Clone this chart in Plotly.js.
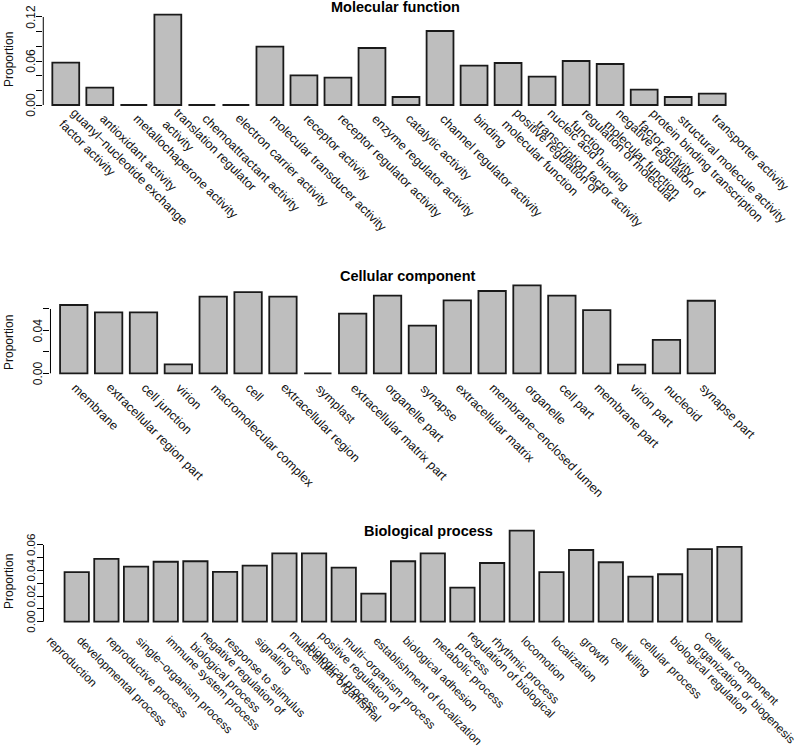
<!DOCTYPE html>
<html><head><meta charset="utf-8">
<script src="https://cdn.plot.ly/plotly-3.0.1.min.js"></script>
<style>html,body{margin:0;padding:0;background:#fff}</style>
</head><body><div id="chart" style="width:800px;height:750px"></div>
<script>
// Molecular function
const mfLabels = [
  "guanyl\u2212nucleotide exchange<br>factor activity",
  "antioxidant activity",
  "metallochaperone activity",
  "translation regulator<br>activity",
  "chemoattractant activity",
  "electron carrier activity",
  "molecular transducer activity",
  "receptor activity",
  "receptor regulator activity",
  "enzyme regulator activity",
  "catalytic activity",
  "channel regulator activity",
  "binding",
  "positive regulation of<br>molecular function",
  "nucleic acid binding<br>transcription factor activity",
  "regulation of molecular<br>function",
  "negative regulation of<br>molecular function",
  "protein binding transcription<br>factor activity",
  "structural molecule activity",
  "transporter activity"
];
const mfValues = [0.0577, 0.0236, 0, 0.1232, 0, 0, 0.0795, 0.0405, 0.0373, 0.0777,
  0.0109, 0.1009, 0.0536, 0.0573, 0.0386, 0.0600, 0.0559, 0.0209, 0.0109, 0.0155];
const mfTickVals = [0, 0.02, 0.04, 0.06, 0.08, 0.10, 0.12];
const mfTickText = ["0.00", "", "", "0.06", "", "", "0.12"];

// Cellular component
const ccLabels = [
  "membrane", "extracellular region part", "cell junction", "virion",
  "macromolecular complex", "cell", "extracellular region", "symplast",
  "extracellular matrix part", "organelle part", "synapse", "extracellular matrix",
  "membrane\u2212enclosed lumen", "organelle", "cell part", "membrane part",
  "virion part", "nucleoid", "synapse part"
];
const ccValues = [0.0637, 0.0569, 0.0569, 0.0084, 0.0715, 0.0758, 0.0715, 0,
  0.0556, 0.0724, 0.0444, 0.0681, 0.0768, 0.0821, 0.0724, 0.0590, 0.0080, 0.0311, 0.0677];
const ccTickVals = [0, 0.02, 0.04, 0.06];
const ccTickText = ["0.00", "", "0.04", ""];

// Biological process
const bpLabels = [
  "reproduction", "developmental process", "reproductive process",
  "single\u2212organism process", "immune system process",
  "negative regulation of<br>biological process", "response to stimulus", "signaling",
  "multicellular organismal<br>process", "positive regulation of<br>biological process",
  "multi\u2212organism process", "establishment of localization", "biological adhesion",
  "metabolic process", "regulation of biological<br>process", "rhythmic process",
  "locomotion", "localization", "growth", "cell killing", "cellular process",
  "biological regulation", "cellular component<br>organization or biogenesis"
];
const bpValues = [0.0387, 0.0491, 0.0430, 0.0469, 0.0473, 0.0389, 0.0438, 0.0535,
  0.0535, 0.0423, 0.0219, 0.0473, 0.0535, 0.0266, 0.0459, 0.0712, 0.0387, 0.0561,
  0.0465, 0.0352, 0.0371, 0.0567, 0.0585];
const bpTickVals = [0, 0.01, 0.02, 0.03, 0.04, 0.05, 0.06];
const bpTickText = ["0.00", "", "0.02", "", "0.04", "", "0.06"];

const titles = ["Molecular function", "Cellular component", "Biological process"];
const yTitle = "Proportion";

const FONT = "Liberation Sans, Arial, Helvetica, sans-serif";
const TXT = "#111";
const barFill = "#bebebe";
const barLine = {color: "#1a1a1a", width: 1.8};
const W = 800, H = 750;

function barTrace(x, y, xa, ya, w) {
  return {type: "bar", x: x, y: y, xaxis: xa, yaxis: ya, width: w,
    marker: {color: barFill, line: barLine}, hoverinfo: "skip", showlegend: false};
}

const data = [
  barTrace(mfLabels, mfValues, "x", "y", 0.79),
  barTrace(ccLabels, ccValues, "x2", "y2", 0.786),
  barTrace(bpLabels, bpValues, "x3", "y3", 0.82)
];

function xAxis(domain, range) {
  return {domain: domain, range: range, type: "category", showline: false, showgrid: false,
    zeroline: false, ticks: "", showticklabels: false, automargin: false};
}
function yAxis(domain, range, vals) {
  return {domain: domain, range: range, showline: false, showgrid: false, zeroline: false,
    ticks: "outside", ticklen: 6, tickwidth: 1, tickcolor: "#000",
    tickvals: vals, showticklabels: false, automargin: false};
}

const xDom = [[0.0541, 0.9158], [0.0631, 0.9028], [0.0544, 0.9341]];

const annotations = [];
// Panel titles
[[titles[0], 0.494, 7], [titles[1], 0.51, 276], [titles[2], 0.536, 531]].forEach(t => {
  annotations.push({text: "<b>" + t[0] + "</b>", xref: "paper", yref: "paper",
    x: t[1], y: 1 - t[2] / H, xanchor: "center", yanchor: "middle", showarrow: false,
    font: {family: FONT, size: 14.5, color: "#000"}});
});
// y axis titles
[60, 343, 582].forEach(yc => {
  annotations.push({text: yTitle, xref: "paper", yref: "paper", x: 9 / W, y: 1 - yc / H,
    xanchor: "center", yanchor: "middle", textangle: -90, showarrow: false,
    font: {family: FONT, size: 12, color: TXT}});
});
// y tick labels (vertical, as in the reference), placed on the value axes
[[mfTickVals, mfTickText, "y", 0, 12], [ccTickVals, ccTickText, "y2", 1, 12], [bpTickVals, bpTickText, "y3", 2, 11.5]]
  .forEach(([vals, txt, yref, k, fs]) => {
    vals.forEach((v, i) => {
      if (!txt[i]) return;
      annotations.push({text: txt[i], xref: "paper", yref: yref, x: xDom[k][0], y: v,
        xshift: -12.5, xanchor: "center", yanchor: "middle", textangle: -90, showarrow: false,
        borderpad: 0, borderwidth: 0, font: {family: FONT, size: fs, color: TXT}});
    });
  });
// Rotated category labels (placed on the category axes)
const panels = [
  {labels: mfLabels, xref: "x", angle: 45, dx: 2, ay: 116.6, size: 12.5},
  {labels: ccLabels, xref: "x2", angle: 45, dx: 0, ay: 386, size: 12.5},
  {labels: bpLabels, xref: "x3", angle: 45, dx: -28, ay: 638.3, size: 11.8}
];
panels.forEach(p => {
  const r = p.angle * Math.PI / 180, s = Math.sin(r), c = Math.cos(r);
  p.labels.forEach((lab, i) => {
    const n = lab.split("<br>").length;
    const hb = (1.117 + (n - 1) * 1.3) * p.size;
    annotations.push({text: lab, xref: p.xref, yref: "paper", x: i, y: 1 - p.ay / H,
      xanchor: "left", yanchor: "top", align: "left", textangle: p.angle,
      xshift: p.dx - hb * s / 2, yshift: hb * c / 2, showarrow: false,
      borderpad: 0, borderwidth: 0,
      font: {family: FONT, size: p.size, color: TXT}});
  });
});

const layout = {
  width: W, height: H,
  margin: {l: 0, r: 0, t: 0, b: 0},
  paper_bgcolor: "#fff", plot_bgcolor: "rgba(0,0,0,0)",
  showlegend: false,
  font: {family: FONT, size: 12, color: TXT},
  xaxis: xAxis(xDom[0], [-0.661, 19.6]),
  yaxis: yAxis([0.8551, 0.9969], [-0.005, 0.14], mfTickVals),
  xaxis2: Object.assign(xAxis(xDom[1], [-0.668, 18.6]), {anchor: "y2"}),
  yaxis2: Object.assign(yAxis([0.498, 0.6309], [-0.003, 0.09], ccTickVals), {anchor: "x2"}),
  xaxis3: Object.assign(xAxis(xDom[2], [-1.119, 22.6]), {anchor: "y3"}),
  yaxis3: Object.assign(yAxis([0.166, 0.2989], [-0.003, 0.075], bpTickVals), {anchor: "x3"}),
  shapes: [
    {type: "line", xref: "x domain", yref: "y", x0: 0, x1: 0, y0: 0, y1: 0.12, line: {color: "#000", width: 1}},
    {type: "line", xref: "x2 domain", yref: "y2", x0: 0, x1: 0, y0: 0, y1: 0.06, line: {color: "#000", width: 1}},
    {type: "line", xref: "x3 domain", yref: "y3", x0: 0, x1: 0, y0: 0, y1: 0.06, line: {color: "#000", width: 1}}
  ],
  annotations: annotations
};

Plotly.newPlot("chart", data, layout, {staticPlot: true, displayModeBar: false});
</script>
</body></html>
